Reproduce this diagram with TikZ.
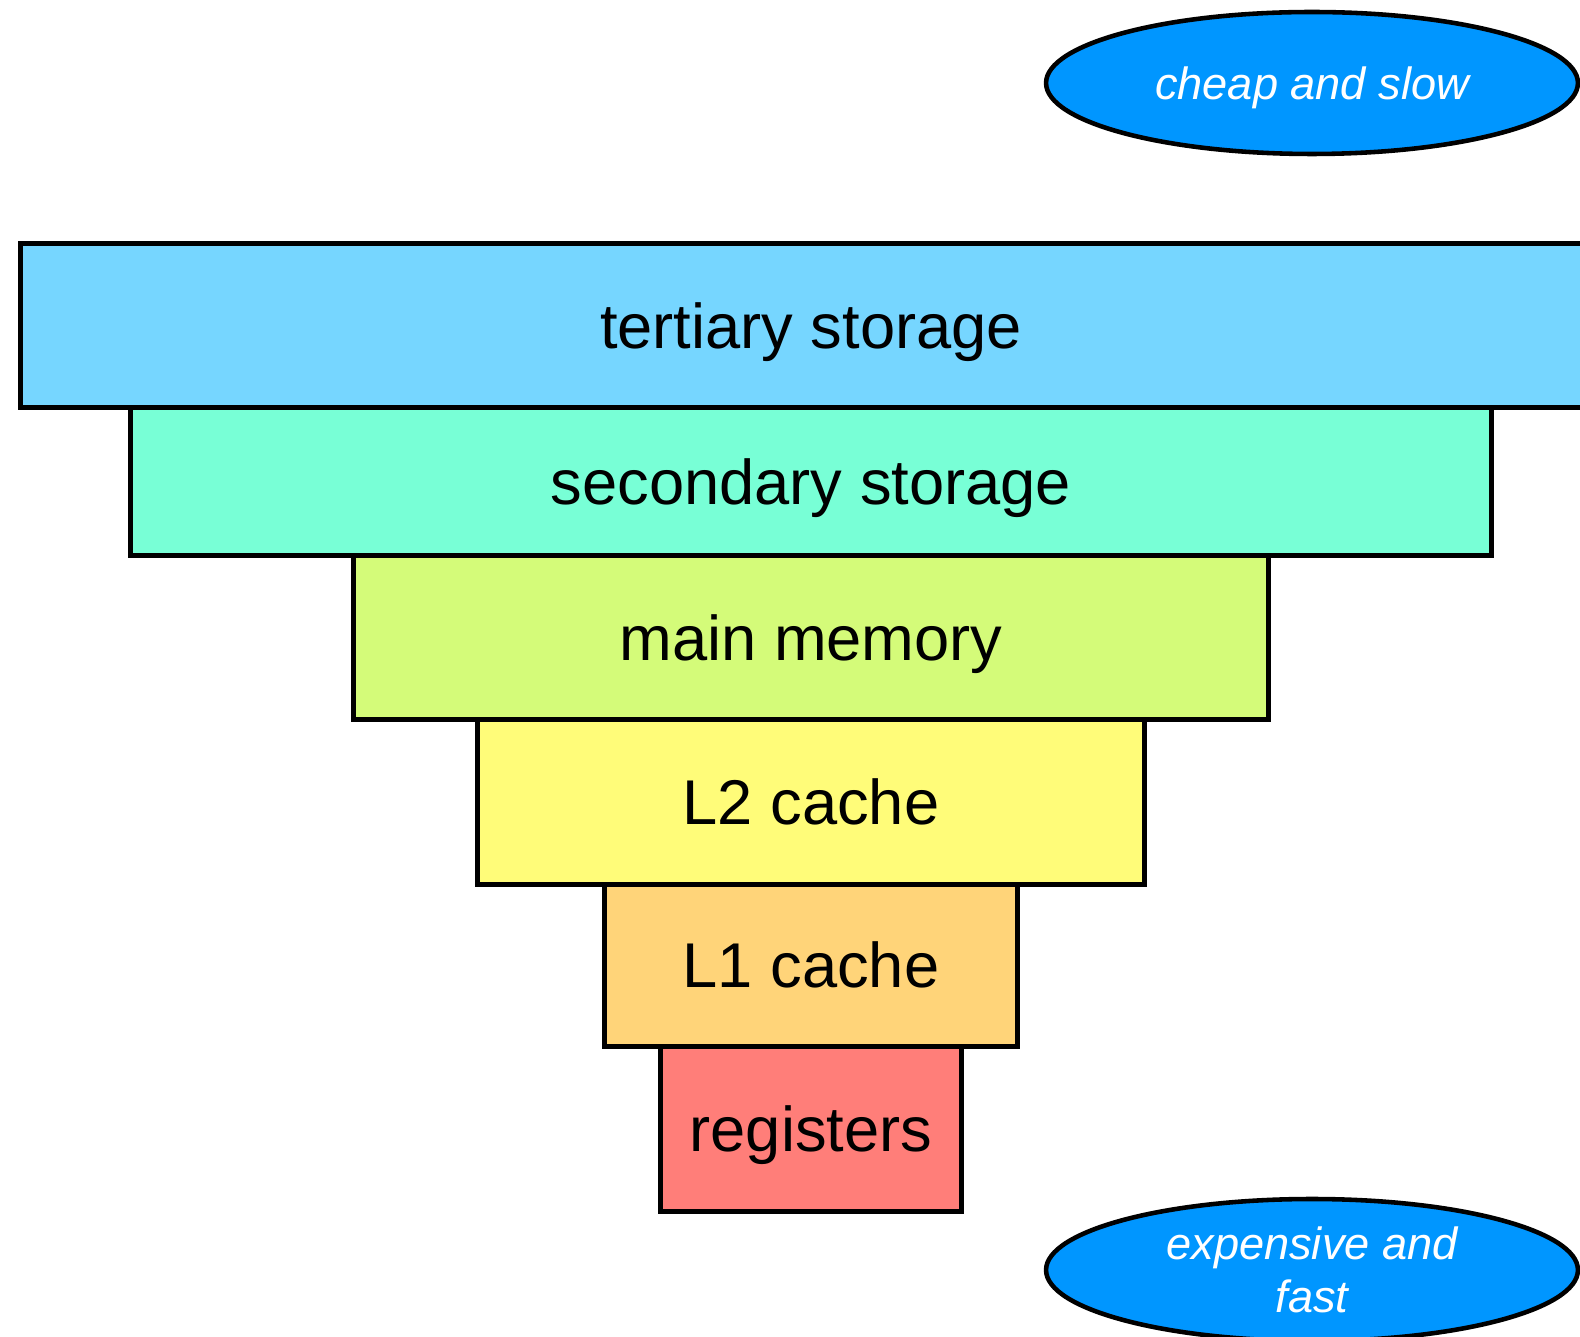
\documentclass[tikz,border=0pt]{standalone}
\usepackage{fontspec}
\setmainfont{Liberation Sans}
\usetikzlibrary{positioning,shapes.geometric}
\definecolor{sky}{HTML}{76D6FF}
\definecolor{spindrift}{HTML}{78FFD6}
\definecolor{honeydew}{HTML}{D4FB79}
\definecolor{banana}{HTML}{FFFC79}
\definecolor{cantaloupe}{HTML}{FFD479}
\definecolor{salmon}{HTML}{FF7E79}
\definecolor{aqua}{HTML}{0096FF}
\tikzset{
    level/.style={draw,line width=2.85pt,rectangle,outer sep=0pt,inner sep=0pt,
        minimum height=3.28cm,text height=25.8pt,text depth=0pt,
        font=\fontsize{36}{43}\selectfont},
    tag/.style={draw,line width=2.6pt,ellipse,fill=aqua,text=white,inner sep=0pt,
        minimum width=10.64cm,minimum height=2.84cm,align=center,
        font=\fontsize{25.7}{30.4}\selectfont\itshape}
}
\begin{document}
\begin{tikzpicture}[x=0.02cm,y=-0.02cm]
    \useasboundingbox (0,0) rectangle (1580,1337);
\node[level,fill=sky,minimum width=31.64cm,minimum height=3.27cm] (tertiary) at (811,325.7) {tertiary storage};
\node[level,fill=spindrift,minimum width=27.22cm,minimum height=2.96cm,below=0pt of tertiary] (secondary) {secondary storage};
\node[level,fill=honeydew,minimum width=18.3cm,below=0pt of secondary] (main) {main memory};
\node[level,fill=banana,minimum width=13.34cm,minimum height=3.3cm,below=0pt of main] (ltwo) {L2 cache};
\node[level,fill=cantaloupe,minimum width=8.28cm,minimum height=3.24cm,below=0pt of ltwo] (lone) {L1 cache};
\node[level,fill=salmon,minimum width=6.02cm,minimum height=3.3cm,below=0pt of lone] (regs) {registers};
\node[tag,text height=18.4pt,text depth=0pt] (cheap) at (1312,83) {cheap and slow};
\node[tag] (fast) at (1312,1270) {expensive and\\fast};
    \end{tikzpicture}
\end{document}
